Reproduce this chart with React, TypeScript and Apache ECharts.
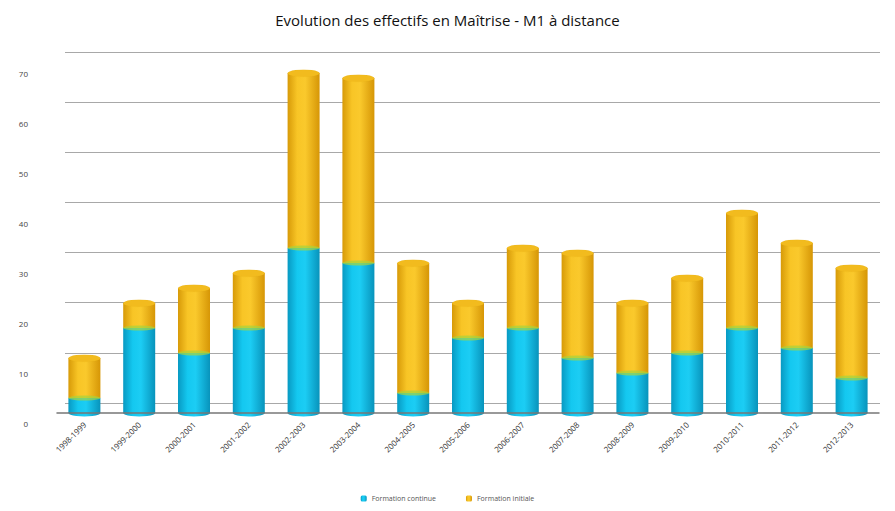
import React, { useEffect, useRef } from "react";
import * as echarts from "echarts";

const categories = [
  "1998-1999", "1999-2000", "2000-2001", "2001-2002", "2002-2003",
  "2003-2004", "2004-2005", "2005-2006", "2006-2007", "2007-2008",
  "2008-2009", "2009-2010", "2010-2011", "2011-2012", "2012-2013",
];
const continueValues = [3, 17, 12, 17, 33, 30, 4, 15, 17, 11, 8, 12, 17, 13, 7];
const initialeValues = [8, 5, 13, 11, 35, 37, 26, 7, 16, 21, 14, 15, 23, 21, 22];
const yTicks = [0, 10, 20, 30, 40, 50, 60, 70];
const seriesNames = ["Formation continue", "Formation initiale"];

const cyanGrad = new echarts.graphic.LinearGradient(0, 0, 1, 0, [
  { offset: 0, color: "#0899c2" },
  { offset: 0.3, color: "#14c8f0" },
  { offset: 0.55, color: "#1ccdf4" },
  { offset: 1, color: "#0893bb" },
]);
const yellowGrad = new echarts.graphic.LinearGradient(0, 0, 1, 0, [
  { offset: 0, color: "#d79a08" },
  { offset: 0.3, color: "#f8c526" },
  { offset: 0.55, color: "#fac92c" },
  { offset: 1, color: "#d69606" },
]);

export default function App() {
  const ref = useRef<HTMLDivElement>(null);
  useEffect(() => {
    if (!ref.current) return;
    const chart = echarts.init(ref.current, null, { renderer: "svg" });
    const totals = continueValues.map((v, i) => v + initialeValues[i]);
    const boundary = continueValues.map((v) => v);
    const ymax = yTicks[yTicks.length - 1];
    const interval = yTicks[1] - yTicks[0];
    chart.setOption({
      animation: false,
      backgroundColor: "#ffffff",
      title: {
        text: "Evolution des effectifs en Maîtrise - M1 à distance",
        left: "center",
        top: 7,
        textStyle: { fontFamily: "Open Sans", fontSize: 15, fontWeight: "normal", color: "#111" },
      },
      legend: {
        bottom: 4,
        left: "center",
        itemWidth: 6,
        itemHeight: 6,
        itemGap: 30,
        data: seriesNames,
        textStyle: { fontSize: 7, color: "#555", fontFamily: "Open Sans" },
      },
      grid: [
        { left: 57, right: 16, top: 63, bottom: 98 },
        { left: 65, right: 15, top: 52, bottom: 108 },
        { left: 45, right: 840, top: 73, bottom: 88 },
      ],
      xAxis: [
        {
          type: "category",
          gridIndex: 0,
          data: categories,
          axisLine: { show: true, lineStyle: { color: "#777", width: 1.5 } },
          axisTick: { show: false },
          axisLabel: { rotate: 45, fontSize: 8, color: "#333", margin: 10, interval: 0, fontFamily: "Open Sans" },
          z: 5,
        },
        { type: "category", gridIndex: 1, data: categories, show: false },
        { type: "category", gridIndex: 2, data: categories, show: false },
      ],
      yAxis: [
        {
          type: "value", gridIndex: 0, min: 0, max: ymax, interval,
          axisLabel: { show: false }, splitLine: { show: false }, axisLine: { show: false }, axisTick: { show: false },
        },
        {
          type: "value", gridIndex: 1, min: 0, max: ymax, interval,
          axisLabel: { show: false },
          splitLine: { show: true, lineStyle: { color: "#a8a8a8", width: 1.2 } },
          axisLine: { show: false }, axisTick: { show: false },
        },
        {
          type: "value", gridIndex: 2, min: 0, max: ymax, interval,
          axisLabel: { show: true, fontSize: 8, color: "#444", margin: 17, fontFamily: "Open Sans" },
          splitLine: { show: false }, axisLine: { show: false }, axisTick: { show: false },
        },
      ],
      series: [
        {
          name: seriesNames[0],
          type: "bar",
          stack: "total",
          barWidth: 32,
          xAxisIndex: 0, yAxisIndex: 0,
          data: continueValues,
          itemStyle: { color: cyanGrad },
          z: 2,
        },
        {
          name: seriesNames[1],
          type: "bar",
          stack: "total",
          barWidth: 32,
          xAxisIndex: 0, yAxisIndex: 0,
          data: initialeValues,
          itemStyle: { color: yellowGrad },
          z: 2,
        },
        {
          type: "pictorialBar",
          xAxisIndex: 0, yAxisIndex: 0,
          symbol: "circle",
          symbolSize: [32, 7],
          symbolPosition: "start",
          symbolOffset: [0, "50%"],
          data: continueValues.map(() => 0.001),
          itemStyle: { color: cyanGrad },
          z: 1,
          silent: true,
        },
        {
          type: "pictorialBar",
          xAxisIndex: 0, yAxisIndex: 0,
          symbol: "circle",
          symbolSize: [32, 5],
          symbolPosition: "end",
          symbolOffset: [0, "-50%"],
          data: boundary,
          itemStyle: { color: "#a7d43c", opacity: 0.7 },
          z: 3,
          silent: true,
        },
        {
          type: "pictorialBar",
          xAxisIndex: 0, yAxisIndex: 0,
          symbol: "circle",
          symbolSize: [32, 7],
          symbolPosition: "end",
          symbolOffset: [0, "-50%"],
          data: totals,
          itemStyle: { color: "#f2bb1e", borderColor: "#c48a06", borderWidth: 1 },
          z: 4,
          silent: true,
        },
      ],
    });
    return () => chart.dispose();
  }, []);
  return (
    <div
      ref={ref}
      style={{ position: "fixed", left: 0, top: 0, width: 895, height: 511 }}
    />
  );
}
